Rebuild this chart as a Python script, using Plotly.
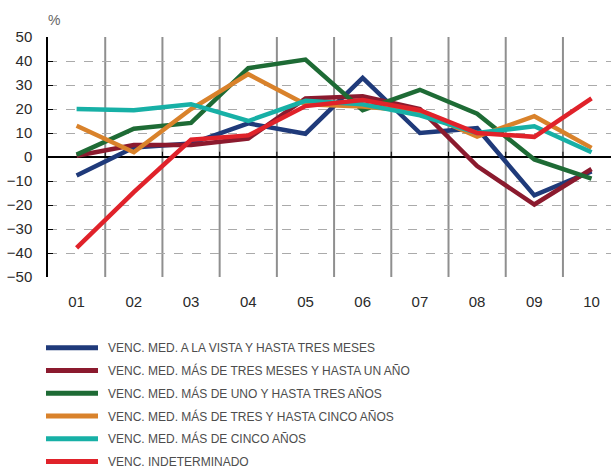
import plotly.graph_objects as go

categories = ["01", "02", "03", "04", "05", "06", "07", "08", "09", "10"]

series_names = [
    "VENC. MED. A LA VISTA Y HASTA TRES MESES",
    "VENC. MED. MÁS DE TRES MESES Y HASTA UN AÑO",
    "VENC. MED. MÁS DE UNO Y HASTA TRES AÑOS",
    "VENC. MED. MÁS DE TRES Y HASTA CINCO AÑOS",
    "VENC. MED. MÁS DE CINCO AÑOS",
    "VENC. INDETERMINADO",
]

vista_tres_meses = [-7.7, 4, 5.6, 14, 9.7, 33, 10, 12, -16, -6]
tres_meses_un_anio = [0.5, 5, 5, 7.7, 24.4, 25.3, 20, -3.8, -19.8, -5]
uno_tres_anios = [1, 11.8, 14.2, 37, 40.6, 19.5, 28, 18, -1, -9]
tres_cinco_anios = [13, 2, 20, 34.5, 22, 21, 19, 8.5, 17, 3.8]
mas_cinco_anios = [20, 19.5, 22, 15, 23.4, 22, 17.4, 10, 12.8, 2]
indeterminado = [-37.9, -14.6, 7.2, 9, 21.2, 23.7, 19.5, 10, 8.4, 24.4]

colors = ["#1f3a7a", "#8b1a2e", "#1e6b35", "#d9822b", "#17b0a6", "#e0222a"]

all_series = [vista_tres_meses, tres_meses_un_anio, uno_tres_anios,
              tres_cinco_anios, mas_cinco_anios, indeterminado]

W, H = 611, 469
L, R, T, B = 48, 0, 37, 192
plot_h = H - T - B
plot_w = W - L - R


def px_to_paper_y(py):
    return (H - B - py) / plot_h


def px_to_paper_x(px):
    return (px - L) / plot_w


fig = go.Figure()

for name, vals, col in zip(series_names, all_series, colors):
    fig.add_trace(go.Scatter(
        x=list(range(len(categories))), y=vals, mode="lines", name=name,
        line=dict(color=col, width=4.5), showlegend=False,
    ))

# vertical separators between categories
for i in range(len(categories) - 1):
    fig.add_shape(type="line", x0=i + 0.5, x1=i + 0.5, y0=0, y1=1,
                  xref="x", yref="paper", layer="below",
                  line=dict(color="#8f8f8f", width=2))
    fig.add_shape(type="line", x0=i + 0.5, x1=i + 0.5, y0=0, y1=2.2,
                  xref="x", yref="y", layer="below",
                  line=dict(color="#000000", width=1))

# manual legend
leg_y = [347.7, 370.5, 393.3, 416, 438.8, 461.6]
for name, col, py in zip(series_names, colors, leg_y):
    yp = px_to_paper_y(py)
    fig.add_shape(type="line", xref="paper", yref="paper",
                  x0=px_to_paper_x(46), x1=px_to_paper_x(98), y0=yp, y1=yp,
                  line=dict(color=col, width=5))
    fig.add_annotation(text=name, xref="paper", yref="paper",
                       x=px_to_paper_x(106), y=yp, xanchor="left", yanchor="middle",
                       showarrow=False,
                       font=dict(family="Liberation Sans Narrow, Arial Narrow, sans-serif",
                                 size=12, color="#4d4d4d"))

fig.add_annotation(text="%", xref="paper", yref="paper",
                   x=px_to_paper_x(46), y=px_to_paper_y(20), xanchor="left",
                   yanchor="middle", showarrow=False,
                   font=dict(family="Liberation Sans, Arial, sans-serif", size=14, color="#666666"))

fig.update_layout(
    width=W, height=H,
    margin=dict(l=L, r=R, t=T, b=B, autoexpand=False),
    plot_bgcolor="white", paper_bgcolor="white",
    font=dict(family="Liberation Sans, Arial, sans-serif", size=15, color="#2a2a2a"),
    showlegend=False,
    xaxis=dict(
        tickmode="array", tickvals=list(range(len(categories))), ticktext=categories,
        range=[-0.5, 9.34], showgrid=False, zeroline=False, showline=False,
        ticks="", ticklabelstandoff=14,
    ),
    yaxis=dict(
        range=[-50, 50], dtick=10, showgrid=True, gridcolor="#aaaaaa",
        griddash="dash", gridwidth=1,
        zeroline=True, zerolinecolor="#000000", zerolinewidth=1.5,
        showline=True, linecolor="#000000", linewidth=1.5,
        ticks="inside", ticklen=5, tickcolor="#000000",
        ticklabelstandoff=11,
    ),
)

# the page body has a default 8px margin; drop it so the figure fills the window
fig.write_html("out.html", config={"displayModeBar": False},
               post_script="document.body.style.margin='0';")
